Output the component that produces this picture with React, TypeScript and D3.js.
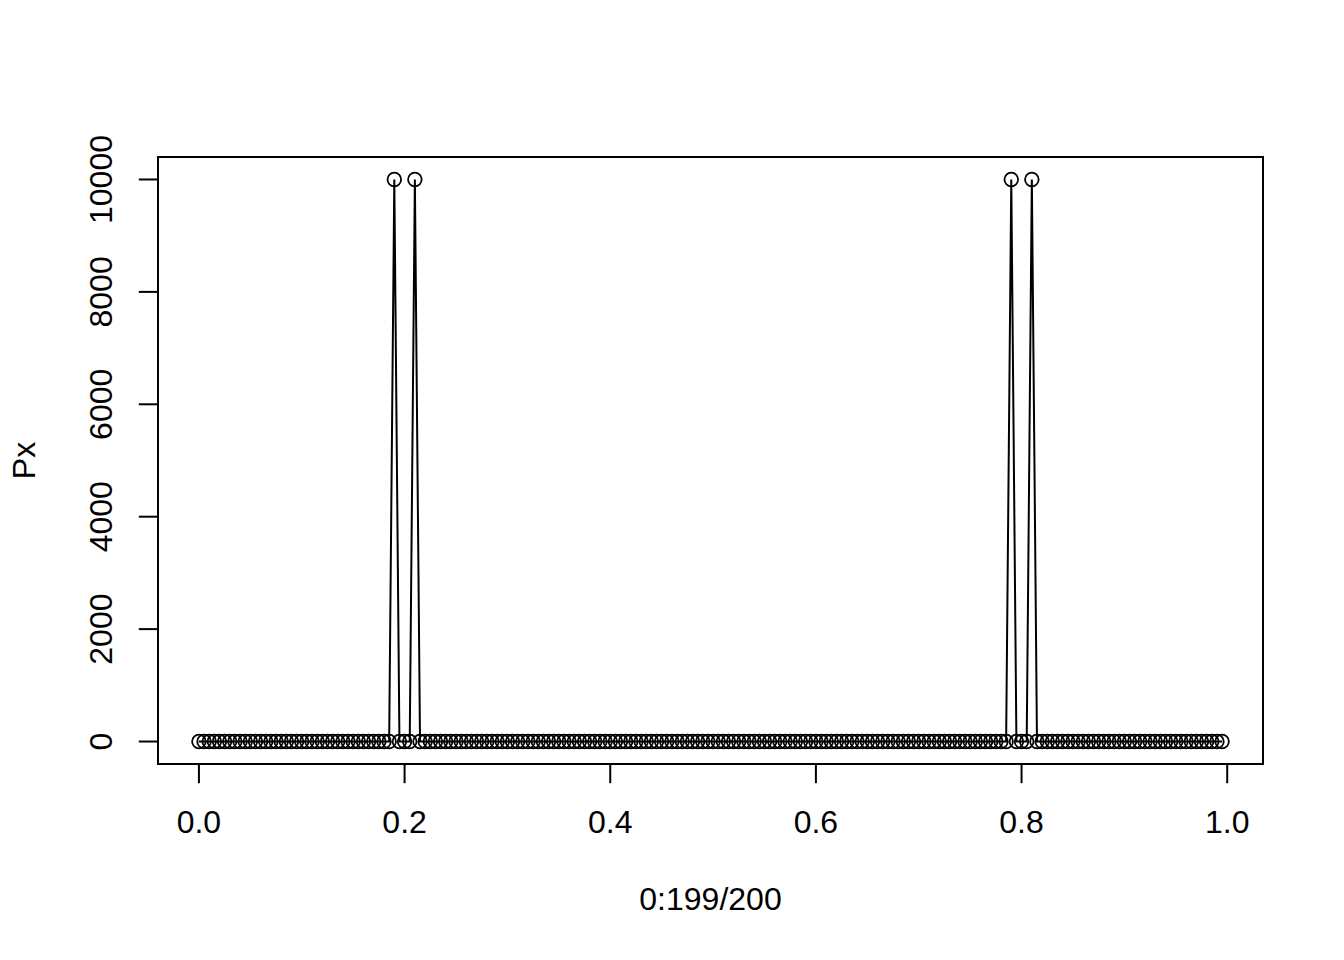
import React from "react";
import * as d3 from "d3";

// Periodogram values Px for frequencies 0:199/200
const Px: number[] = [
  0, 0, 0, 0, 0, 0, 0, 0, 0, 0, 0, 0, 0, 0, 0, 0, 0, 0, 0, 0,
  0, 0, 0, 0, 0, 0, 0, 0, 0, 0, 0, 0, 0, 0, 0, 0, 0, 0, 10000, 0,
  0, 0, 10000, 0, 0, 0, 0, 0, 0, 0, 0, 0, 0, 0, 0, 0, 0, 0, 0, 0,
  0, 0, 0, 0, 0, 0, 0, 0, 0, 0, 0, 0, 0, 0, 0, 0, 0, 0, 0, 0,
  0, 0, 0, 0, 0, 0, 0, 0, 0, 0, 0, 0, 0, 0, 0, 0, 0, 0, 0, 0,
  0, 0, 0, 0, 0, 0, 0, 0, 0, 0, 0, 0, 0, 0, 0, 0, 0, 0, 0, 0,
  0, 0, 0, 0, 0, 0, 0, 0, 0, 0, 0, 0, 0, 0, 0, 0, 0, 0, 0, 0,
  0, 0, 0, 0, 0, 0, 0, 0, 0, 0, 0, 0, 0, 0, 0, 0, 0, 0, 10000, 0,
  0, 0, 10000, 0, 0, 0, 0, 0, 0, 0, 0, 0, 0, 0, 0, 0, 0, 0, 0, 0,
  0, 0, 0, 0, 0, 0, 0, 0, 0, 0, 0, 0, 0, 0, 0, 0, 0, 0, 0, 0,
];
const freq: number[] = d3.range(0, 200).map((i) => i / 200);
const xTicks: number[] = [0, 0.2, 0.4, 0.6, 0.8, 1.0];
const yTicks: number[] = [0, 2000, 4000, 6000, 8000, 10000];
const xLabel = "0:199/200";
const yLabel = "Px";

const W = 1344;
const H = 960;
const left = 158;
const right = 1263;
const top = 157;
const bottom = 764;
const FONT = "Liberation Sans, Arial, Helvetica, sans-serif";
const FS = 32;

export default function App() {
  const xMin = d3.min(freq)!;
  const xMax = d3.max(freq)!;
  const yMin = d3.min(Px)!;
  const yMax = d3.max(Px)!;
  const xPad = (xMax - xMin) * 0.04;
  const yPad = (yMax - yMin) * 0.04;
  const x = d3.scaleLinear().domain([xMin - xPad, xMax + xPad]).range([left, right]);
  const y = d3.scaleLinear().domain([yMin - yPad, yMax + yPad]).range([bottom, top]);
  const pts = freq.map((f, i) => [f, Px[i]] as [number, number]);
  const line = d3
    .line<[number, number]>()
    .x((d) => x(d[0]))
    .y((d) => y(d[1]));
  const tickLen = 19.2;

  return (
    <svg
      width={W}
      height={H}
      style={{ position: "absolute", left: 0, top: 0, background: "#fff" }}
      fontFamily={FONT}
    >
      <rect x={0} y={0} width={W} height={H} fill="#fff" />
      <path d={line(pts)!} fill="none" stroke="#000" strokeWidth={2} />
      {pts.map((d, i) => (
        <circle key={i} cx={x(d[0])} cy={y(d[1])} r={6.8} fill="none" stroke="#000" strokeWidth={1.8} />
      ))}
      <rect x={left} y={top} width={right - left} height={bottom - top} fill="none" stroke="#000" strokeWidth={2} />
      {/* x axis */}
      <line x1={x(xTicks[0])} x2={x(xTicks[xTicks.length - 1])} y1={bottom} y2={bottom} stroke="#000" strokeWidth={2} />
      {xTicks.map((t) => (
        <g key={t}>
          <line x1={x(t)} x2={x(t)} y1={bottom} y2={bottom + tickLen} stroke="#000" strokeWidth={2} />
          <text x={x(t)} y={833} textAnchor="middle" fontSize={FS} fill="#000">
            {t.toFixed(1)}
          </text>
        </g>
      ))}
      {/* y axis */}
      <line x1={left} x2={left} y1={y(yTicks[0])} y2={y(yTicks[yTicks.length - 1])} stroke="#000" strokeWidth={2} />
      {yTicks.map((t) => (
        <g key={t}>
          <line x1={left} x2={left - tickLen} y1={y(t)} y2={y(t)} stroke="#000" strokeWidth={2} />
          <text
            x={112}
            y={y(t)}
            transform={`rotate(-90, 112, ${y(t)})`}
            textAnchor="middle"
            fontSize={FS}
            fill="#000"
          >
            {String(t)}
          </text>
        </g>
      ))}
      <text x={(left + right) / 2} y={910} textAnchor="middle" fontSize={FS} fill="#000">
        {xLabel}
      </text>
      <text
        x={35}
        y={(top + bottom) / 2}
        transform={`rotate(-90, 35, ${(top + bottom) / 2})`}
        textAnchor="middle"
        fontSize={FS}
        fill="#000"
      >
        {yLabel}
      </text>
    </svg>
  );
}
